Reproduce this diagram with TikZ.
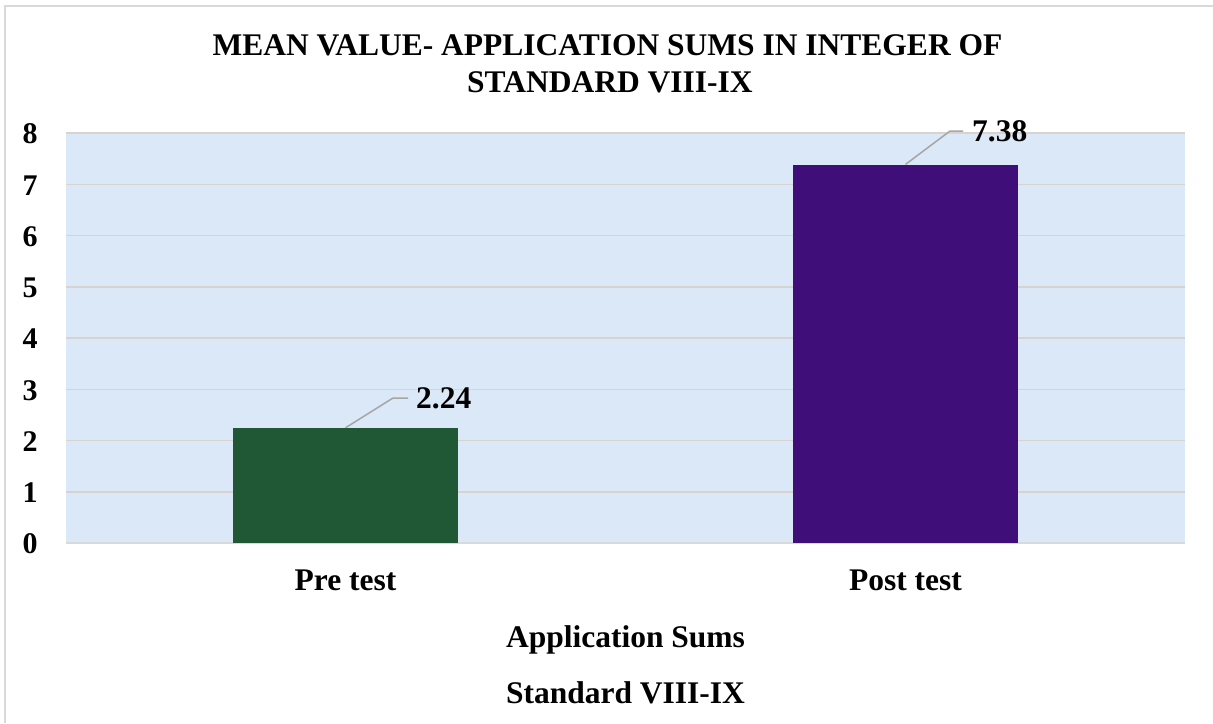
\documentclass[tikz,border=0pt]{standalone}
\usepackage{fontspec}
\setmainfont{Liberation Serif}
\definecolor{plotbg}{HTML}{DAE8F7}
\definecolor{gridc}{HTML}{D8D3CE}
\definecolor{framec}{HTML}{D9D9D9}
\definecolor{greenbar}{HTML}{205734}
\definecolor{purplebar}{HTML}{400E79}
\definecolor{leaderc}{HTML}{A6A6A6}
\tikzset{
  bigtext/.style={font=\fontsize{31.5}{37}\selectfont\bfseries, inner sep=0pt},
  ticktext/.style={font=\fontsize{30}{34}\selectfont\bfseries, inner sep=0pt},
  barbox/.style={draw=none, inner sep=0pt, minimum width=225pt, anchor=south},
  leader/.style={draw=leaderc, line width=1.5pt},
  gridline/.style={draw=gridc, line width=1.5pt},
}
\begin{document}
\begin{tikzpicture}[x=1pt,y=-1pt]
\useasboundingbox (0,0) rectangle (1213,723);
\fill[white] (0,0) rectangle (1213,723);
% chart frame (left and top edges visible)
\draw[framec, line width=2pt] (4.5,723) -- (4.5,5.5) -- (1213,5.5);
% plot area
\fill[plotbg] (66,133) rectangle (1185,543);
\foreach \i in {1,...,8} {
  \draw[gridline] (66,{543-51.25*\i}) -- (1185,{543-51.25*\i});
}
\draw[draw=framec, line width=2pt] (66,543) -- (1185,543);
% y tick labels
\foreach \i in {0,...,8} {
  \node[ticktext] (tick\i) at (30,{544-51.25*\i}) {\i};
}
% bars
\node[barbox, fill=greenbar, minimum height=114.8pt] (pre) at (345.5,543) {};
\node[barbox, fill=purplebar, minimum height=378.2pt] (post) at (905.5,543) {};
% data labels
\node[bigtext, anchor=west] (lblpre) at (416,398) {2.24};
\node[bigtext, anchor=west] (lblpost) at (972,131) {7.38};
\coordinate (kpre) at (393,398);
\coordinate (kpost) at (950,131);
\draw[leader] (pre.north) -- (kpre) -- ([xshift=-8pt]lblpre.west);
\draw[leader] (post.north) -- (kpost) -- ([xshift=-9pt]lblpost.west);
% category labels
\node[bigtext, anchor=base] (catpre) at (345.5,590) {Pre test};
\node[bigtext, anchor=base] (catpost) at (905.5,590) {Post test};
% axis titles
\node[bigtext, anchor=base] (axt1) at (625.5,647) {Application Sums};
\node[bigtext, anchor=base] (axt2) at (625.5,703) {Standard VIII-IX};
% chart title
\node[bigtext, anchor=base] (title1) at (607.5,55) {MEAN VALUE- APPLICATION SUMS IN INTEGER OF};
\node[bigtext, anchor=base] (title2) at (610,92) {STANDARD VIII-IX};
\end{tikzpicture}
\end{document}
